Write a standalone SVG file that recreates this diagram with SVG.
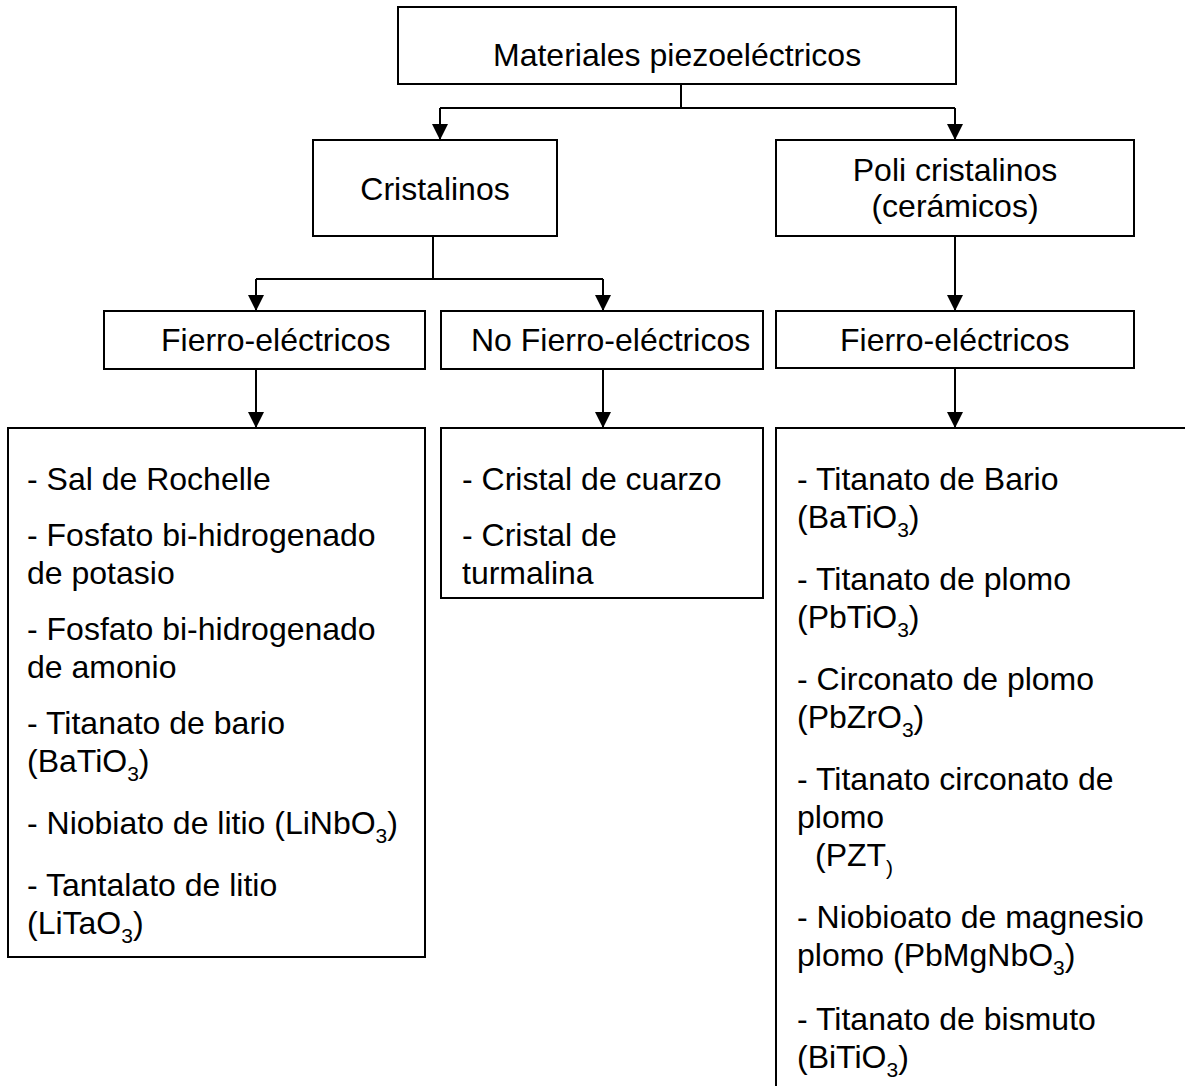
<svg xmlns="http://www.w3.org/2000/svg" width="1185" height="1086" viewBox="0 0 1185 1086">
<style>
.box{fill:#fff;stroke:#000;stroke-width:2}
.t{font-family:"Liberation Sans",Arial,sans-serif;font-size:32px;fill:#000}
.s{font-size:21px}
.c{fill:none;stroke:#000;stroke-width:2}
</style>
<defs>
<marker id="ah" markerUnits="userSpaceOnUse" markerWidth="16" markerHeight="16" viewBox="0 0 16 16" refX="16" refY="8" orient="auto">
<path d="M0,0 L16,8 L0,16 Z" fill="#000"/>
</marker>
</defs>
<rect width="1185" height="1086" fill="#fff"/>
<g id="connectors">
<path class="c" d="M681,84 V108 M440,108 H955"/>
<path class="c" d="M440,108 V140" marker-end="url(#ah)"/>
<path class="c" d="M955,108 V140" marker-end="url(#ah)"/>
<path class="c" d="M433,236 V279 M256,279 H603"/>
<path class="c" d="M256,279 V311" marker-end="url(#ah)"/>
<path class="c" d="M603,279 V311" marker-end="url(#ah)"/>
<path class="c" d="M955,236 V311" marker-end="url(#ah)"/>
<path class="c" d="M256,369 V428" marker-end="url(#ah)"/>
<path class="c" d="M603,369 V428" marker-end="url(#ah)"/>
<path class="c" d="M955,368 V428" marker-end="url(#ah)"/>
</g>
<g id="n-root">
<rect class="box" x="398" y="7" width="558" height="77"/>
<text class="t" x="493" y="66">Materiales piezoeléctricos</text>
</g>
<g id="n-cristalinos">
<rect class="box" x="313" y="140" width="244" height="96"/>
<text class="t" x="435" y="200" text-anchor="middle">Cristalinos</text>
</g>
<g id="n-poli">
<rect class="box" x="776" y="140" width="358" height="96"/>
<text class="t" x="955" y="181" text-anchor="middle">Poli cristalinos</text>
<text class="t" x="955" y="217" text-anchor="middle">(cerámicos)</text>
</g>
<g id="n-fe-left">
<rect class="box" x="104" y="311" width="321" height="58"/>
<text class="t" x="161" y="351">Fierro-eléctricos</text>
</g>
<g id="n-nofe">
<rect class="box" x="441" y="311" width="322" height="58"/>
<text class="t" x="471" y="351">No Fierro-eléctricos</text>
</g>
<g id="n-fe-right">
<rect class="box" x="776" y="311" width="358" height="57"/>
<text class="t" x="840" y="351">Fierro-eléctricos</text>
</g>
<g id="n-list-left">
<rect class="box" x="8" y="428" width="417" height="529"/>
<text class="t" x="27" y="490">- Sal de Rochelle</text>
<text class="t" x="27" y="546">- Fosfato bi-hidrogenado</text>
<text class="t" x="27" y="584">de potasio</text>
<text class="t" x="27" y="640">- Fosfato bi-hidrogenado</text>
<text class="t" x="27" y="678">de amonio</text>
<text class="t" x="27" y="734">- Titanato de bario</text>
<text class="t" x="27" y="772">(BaTiO<tspan class="s" dy="9">3</tspan><tspan dy="-9">)</tspan></text>
<text class="t" x="27" y="834">- Niobiato de litio (LiNbO<tspan class="s" dy="9">3</tspan><tspan dy="-9">)</tspan></text>
<text class="t" x="27" y="896">- Tantalato de litio</text>
<text class="t" x="27" y="934">(LiTaO<tspan class="s" dy="9">3</tspan><tspan dy="-9">)</tspan></text>
</g>
<g id="n-list-mid">
<rect class="box" x="441" y="428" width="322" height="170"/>
<text class="t" x="462" y="490">- Cristal de cuarzo</text>
<text class="t" x="462" y="546">- Cristal de</text>
<text class="t" x="462" y="584">turmalina</text>
</g>
<g id="n-list-right">
<path class="c" d="M776,1090 V428 H1190"/>
<text class="t" x="797" y="490">- Titanato de Bario</text>
<text class="t" x="797" y="528">(BaTiO<tspan class="s" dy="9">3</tspan><tspan dy="-9">)</tspan></text>
<text class="t" x="797" y="590">- Titanato de plomo</text>
<text class="t" x="797" y="628">(PbTiO<tspan class="s" dy="9">3</tspan><tspan dy="-9">)</tspan></text>
<text class="t" x="797" y="690">- Circonato de plomo</text>
<text class="t" x="797" y="728">(PbZrO<tspan class="s" dy="9">3</tspan><tspan dy="-9">)</tspan></text>
<text class="t" x="797" y="790">- Titanato circonato de</text>
<text class="t" x="797" y="828">plomo</text>
<text class="t" x="815" y="866">(PZT<tspan class="s" dy="9">)</tspan></text>
<text class="t" x="797" y="928">- Niobioato de magnesio</text>
<text class="t" x="797" y="966">plomo (PbMgNbO<tspan class="s" dy="9">3</tspan><tspan dy="-9">)</tspan></text>
<text class="t" x="797" y="1030">- Titanato de bismuto</text>
<text class="t" x="797" y="1068">(BiTiO<tspan class="s" dy="9">3</tspan><tspan dy="-9">)</tspan></text>
</g>
</svg>
